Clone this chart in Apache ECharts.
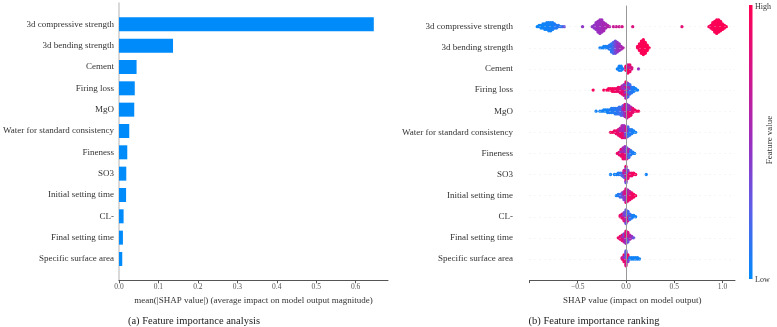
<!DOCTYPE html>
<html>
<head>
<meta charset="utf-8">
<script src="https://cdn.jsdelivr.net/npm/echarts@6/dist/echarts.min.js"></script>
<style>html,body{margin:0;padding:0;background:#fff;}#c{width:777px;height:327px;}</style>
</head>
<body>
<div id="c"></div>
<script>
// ---------------- data ----------------
const features = ['3d compressive strength','3d bending strength','Cement','Firing loss','MgO',
  'Water for standard consistency','Fineness','SO3','Initial setting time','CL-','Final setting time','Specific surface area'];
const meanAbsShap = [0.646, 0.137, 0.0446, 0.040, 0.0387, 0.026, 0.021, 0.0185, 0.018, 0.0117, 0.010, 0.0083];
const barTicks = [0, 0.1, 0.2, 0.3, 0.4, 0.5, 0.6];
const swarmTickLabels = [-0.5, 0, 0.5, 1.0];
const swarmTickMarks = [-1.0, -0.5, 0, 0.5, 1.0];
const captions = ['(a) Feature importance analysis', '(b) Feature importance ranking'];

// beeswarm entries: [SHAP value, number of samples, feature value (0 low .. 1 high)]
const shapCompressive = [[-0.92,1,0.02],[-0.90,2,0.03],[-0.88,3,0.03],[-0.86,4,0.04],[-0.84,5,0.04],[-0.82,6,0.05],[-0.80,7,0.05],[-0.78,7,0.06],[-0.76,6,0.06],[-0.74,4,0.08],[-0.72,3,0.1],[-0.70,2,0.1],[-0.68,1,0.12],[-0.66,1,0.15],[-0.64,1,0.3],
  [-0.45,1,0.45],
  [-0.35,1,0.45],[-0.33,3,0.45],[-0.31,6,0.48],[-0.29,9,0.5],[-0.27,11,0.5],[-0.25,10,0.52],[-0.23,7,0.55],[-0.21,4,0.55],[-0.19,2,0.6],[-0.17,1,0.6],
  [-0.13,1,0.7],[-0.10,1,0.7],[-0.07,1,0.72],[-0.04,1,0.75],[0.07,1,0.8],[0.58,1,0.85],
  [0.86,1,0.95],[0.88,3,0.96],[0.90,6,0.97],[0.92,9,0.98],[0.94,11,0.98],[0.96,10,0.98],[0.98,8,0.98],[1.00,5,0.99],[1.02,3,0.99],[1.04,1,1]];
const shapBending = [[-0.27,1,0.05],[-0.25,1,0.05],[-0.23,2,0.05],[-0.21,2,0.05],[-0.19,2,0.08],[-0.17,4,0.1],[-0.15,7,0.12],[-0.13,9,0.2],[-0.11,10,0.35],[-0.09,8,0.45],[-0.07,6,0.5],[-0.05,3,0.55],[-0.03,1,0.6],
  [0.12,2,0.95],[0.14,6,0.97],[0.16,10,0.98],[0.18,12,0.98],[0.20,9,0.99],[0.22,5,0.99],[0.24,1,1]];
const shapCement = [[-0.09,1,0.05],[-0.07,4,0.05],[-0.05,4,0.05],[-0.03,1,0.1],
  [0.0,4,0.9],[0.02,4,0.95],[0.02,3,0.7],[0.04,4,0.9],[0.04,2,0.6],[0.06,2,0.8],[0.13,1,0.5]];
const shapFiringLoss = [[-0.34,1,0.95],[-0.23,1,0.95],[-0.20,1,0.95],[-0.18,2,0.95],[-0.16,2,0.95],[-0.14,3,0.95],[-0.12,3,0.95],[-0.10,3,0.9],[-0.08,4,0.9],[-0.06,5,0.85],
  [-0.04,4,0.9],[-0.04,3,0.6],[-0.02,5,0.8],[-0.02,4,0.5],[0.0,5,0.6],[0.0,4,0.3],[0.0,4,0.9],[0.02,4,0.4],[0.02,4,0.2],[0.02,3,0.7],[0.04,5,0.15],[0.04,3,0.5],[0.06,5,0.1],[0.08,4,0.08],[0.10,2,0.05],[0.12,1,0.05]];
const shapMgO = [[-0.31,1,0.05],[-0.27,1,0.05],[-0.25,1,0.05],[-0.23,2,0.05],[-0.21,2,0.05],[-0.19,3,0.05],[-0.17,3,0.08],[-0.15,4,0.08],[-0.13,4,0.1],[-0.11,5,0.1],[-0.09,5,0.12],[-0.07,6,0.15],[-0.05,7,0.2],[-0.03,5,0.3],[-0.03,3,0.6],
  [-0.01,5,0.5],[-0.01,5,0.8],[0.01,6,0.7],[0.01,5,0.4],[0.03,5,0.85],[0.03,4,0.5],[0.05,4,0.9],[0.05,3,0.6],[0.07,4,0.85],[0.09,2,0.9],[0.11,1,0.95],[0.13,1,0.95]];
const shapWater = [[-0.16,1,0.95],[-0.14,1,0.95],[-0.12,2,0.9],[-0.10,3,0.9],[-0.08,5,0.85],[-0.06,4,0.9],[-0.06,3,0.6],[-0.04,5,0.9],[-0.04,5,0.6],[-0.02,5,0.8],[-0.02,5,0.5],[0.0,4,0.3],[0.0,5,0.7],[0.02,5,0.2],[0.02,3,0.5],[0.04,5,0.1],[0.06,4,0.08],[0.08,2,0.05],[0.10,1,0.05]];
const shapFineness = [[-0.09,1,0.9],[-0.07,3,0.85],[-0.05,4,0.9],[-0.05,2,0.5],[-0.03,5,0.9],[-0.03,4,0.6],[-0.01,5,0.85],[-0.01,5,0.5],[0.01,5,0.7],[0.01,4,0.3],[0.03,4,0.2],[0.03,3,0.6],[0.05,4,0.1],[0.07,2,0.08],[0.09,1,0.05]];
const shapSO3 = [[-0.16,1,0.05],[-0.12,1,0.05],[-0.10,1,0.05],[-0.08,2,0.08],[-0.06,2,0.1],[-0.04,3,0.2],[-0.02,3,0.3],[-0.02,3,0.7],[0.0,5,0.3],[0.0,4,0.6],[0.0,4,0.9],[0.02,4,0.8],[0.02,3,0.4],[0.04,3,0.9],[0.06,3,0.9],[0.08,2,0.95],[0.10,1,0.95],[0.21,1,0.05]];
const shapInitialSet = [[-0.10,1,0.05],[-0.08,2,0.08],[-0.06,3,0.15],[-0.04,4,0.3],[-0.02,4,0.4],[-0.02,3,0.7],[0.0,5,0.5],[0.0,6,0.8],[0.02,5,0.85],[0.02,4,0.55],[0.04,4,0.9],[0.04,3,0.7],[0.06,5,0.9],[0.08,3,0.95],[0.10,1,0.95]];
const shapCl = [[-0.06,2,0.9],[-0.04,3,0.85],[-0.04,1,0.5],[-0.02,4,0.8],[-0.02,3,0.4],[0.0,5,0.6],[0.0,6,0.3],[0.02,4,0.7],[0.02,4,0.2],[0.04,4,0.15],[0.04,1,0.6],[0.06,3,0.1],[0.08,2,0.05],[0.10,1,0.05]];
const shapFinalSet = [[-0.08,1,0.9],[-0.06,3,0.9],[-0.04,4,0.85],[-0.04,1,0.4],[-0.02,4,0.7],[-0.02,3,0.4],[0.0,5,0.5],[0.0,5,0.85],[0.02,4,0.3],[0.02,4,0.8],[0.04,4,0.6],[0.06,2,0.5],[0.08,1,0.3]];
const shapSurfaceArea = [[-0.04,2,0.8],[-0.02,4,0.9],[-0.02,2,0.5],[0.0,6,0.8],[0.0,6,0.3],[0.02,3,0.4],[0.02,3,0.9],[0.04,2,0.1],[0.06,2,0.05],[0.08,2,0.05],[0.10,2,0.05],[0.12,2,0.05],[0.14,1,0.05]];

const swarms = [shapCompressive, shapBending, shapCement, shapFiringLoss, shapMgO, shapWater,
  shapFineness, shapSO3, shapInitialSet, shapCl, shapFinalSet, shapSurfaceArea];

// ---------------- layout helpers ----------------
const FONT = 'Liberation Serif';
const cmap = ['#008bfb', '#5a5fe8', '#9a2ebf', '#d3158a', '#ff0052'];
const STEP = 0.064; // vertical stacking step in row units

function layoutSwarm(entries, row) {
  const groups = new Map();
  entries.forEach(e => {
    const k = e[0].toFixed(3);
    if (!groups.has(k)) groups.set(k, []);
    groups.get(k).push({ x: e[0], n: e[1], fv: e[2] });
  });
  const pts = [];
  groups.forEach(list => {
    let i = 0, more = true;
    while (more) {
      more = false;
      for (const q of list) {
        if (q.n > 0) {
          q.n--; more = true;
          const k = Math.ceil(i / 2) * (i % 2 ? -1 : 1);
          pts.push([q.x, row + k * STEP, q.fv]);
          i++;
        }
      }
    }
  });
  return pts;
}

let swarmData = [];
swarms.forEach((s, idx) => { swarmData = swarmData.concat(layoutSwarm(s, idx + 1)); });

const catAxis = [''].concat(features, ['']);
const fmt = v => (v < 0 ? '\u2212' : '') + Math.abs(v).toFixed(1);

const chart = echarts.init(document.getElementById('c'), null, { renderer: 'canvas' });
chart.setOption({
  animation: false,
  backgroundColor: '#fff',
  textStyle: { fontFamily: FONT },
  grid: [
    { left: 118.7, right: 389, top: 3, bottom: 46.7 },
    { left: 529.5, right: 42, top: 5.6, bottom: 46.9 }
  ],
  xAxis: [
    { gridIndex: 0, type: 'value', min: 0, max: 0.682,
      name: 'mean(|SHAP value|) (average impact on model output magnitude)',
      nameLocation: 'middle', nameGap: 16,
      nameTextStyle: { fontFamily: FONT, fontSize: 9, color: '#333' },
      axisLine: { show: true, lineStyle: { color: '#555', width: 1 } },
      axisTick: { show: true, length: 3, lineStyle: { color: '#555' }, customValues: barTicks },
      axisLabel: { fontFamily: FONT, fontSize: 7.5, color: '#555', margin: 3, customValues: barTicks, formatter: fmt },
      splitLine: { show: false } },
    { gridIndex: 1, type: 'value', min: -1.0, max: 1.13,
      name: 'SHAP value (impact on model output)',
      nameLocation: 'middle', nameGap: 16,
      nameTextStyle: { fontFamily: FONT, fontSize: 9, color: '#333' },
      axisLine: { show: true, onZero: false, lineStyle: { color: '#555', width: 1 } },
      axisTick: { show: true, length: 3, lineStyle: { color: '#555' }, customValues: swarmTickMarks },
      axisLabel: { fontFamily: FONT, fontSize: 7.5, color: '#555', margin: 3, customValues: swarmTickLabels, formatter: fmt },
      splitLine: { show: false } }
  ],
  yAxis: [
    { gridIndex: 0, type: 'category', data: catAxis, inverse: true, boundaryGap: false,
      axisLine: { show: true, lineStyle: { color: '#ccc', width: 1.5 } },
      axisTick: { show: false },
      axisLabel: { fontFamily: FONT, fontSize: 9, color: '#333', margin: 5, interval: 0 },
      splitLine: { show: false } },
    { gridIndex: 1, type: 'value', min: 0, max: 13, interval: 1, inverse: true,
      axisLine: { show: false }, axisTick: { show: false },
      axisLabel: { fontFamily: FONT, fontSize: 9, color: '#333', margin: 16.5,
        formatter: v => (v >= 1 && v <= 12 ? features[v - 1] : '') },
      splitLine: { show: false } }
  ],
  visualMap: { show: false, type: 'continuous', seriesIndex: 1, dimension: 2, min: 0, max: 1,
    inRange: { color: cmap } },
  series: [
    { type: 'bar', xAxisIndex: 0, yAxisIndex: 0, barWidth: 14,
      itemStyle: { color: '#008bfb' },
      data: meanAbsShap.map((v, i) => [v, features[i]]),
      encode: { x: 0, y: 1 } },
    { type: 'scatter', xAxisIndex: 1, yAxisIndex: 1, symbolSize: 3.3,
      itemStyle: { opacity: 1 },
      data: swarmData,
      markLine: { silent: true, symbol: 'none', label: { show: false },
        lineStyle: { color: '#e2e2e2', width: 0.6, type: [1, 4] },
        data: features.map((f, i) => ({ yAxis: i + 1 })) } },
    { type: 'scatter', xAxisIndex: 1, yAxisIndex: 1, data: [],
      markLine: { silent: true, symbol: 'none', label: { show: false },
        lineStyle: { color: '#999', width: 1, type: 'solid' },
        data: [{ xAxis: 0 }] } }
  ],
  graphic: [
    { type: 'rect', shape: { x: 749, y: 5, width: 3.5, height: 274 },
      style: { fill: new echarts.graphic.LinearGradient(0, 0, 0, 1, [
        { offset: 0, color: cmap[4] }, { offset: 0.25, color: cmap[3] }, { offset: 0.5, color: cmap[2] },
        { offset: 0.75, color: cmap[1] }, { offset: 1, color: cmap[0] }]) } },
    { type: 'text', x: 755, y: 7, style: { text: 'High', font: '8px "Liberation Serif"', fill: '#333', textVerticalAlign: 'middle' } },
    { type: 'text', x: 755, y: 280, style: { text: 'Low', font: '8px "Liberation Serif"', fill: '#333', textVerticalAlign: 'middle' } },
    { type: 'text', x: 770, y: 140, rotation: Math.PI / 2,
      style: { text: 'Feature value', font: '9px "Liberation Serif"', fill: '#333', textAlign: 'center', textVerticalAlign: 'middle' } },
    { type: 'text', x: 194, y: 321, style: { text: captions[0], font: '10.5px "Liberation Serif"', fill: '#222', textAlign: 'center', textVerticalAlign: 'middle' } },
    { type: 'text', x: 594, y: 321, style: { text: captions[1], font: '10.5px "Liberation Serif"', fill: '#222', textAlign: 'center', textVerticalAlign: 'middle' } }
  ]
});
</script>
</body>
</html>
